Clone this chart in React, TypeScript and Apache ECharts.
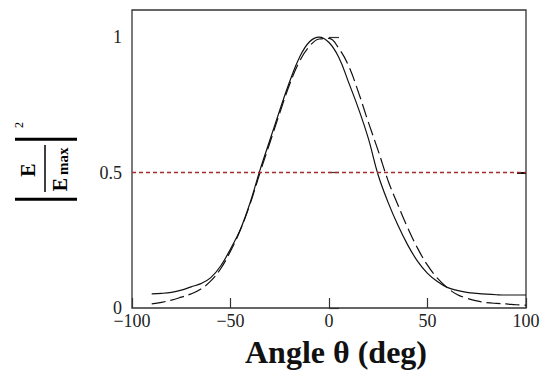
import React, { useEffect, useRef } from "react";
import * as echarts from "echarts";

const angles = [-90, -85, -80, -75, -70, -65, -60, -55, -50, -45, -40, -35, -30, -25, -20, -15, -10, -5, 0, 5, 10, 15, 20, 25, 30, 35, 40, 45, 50, 55, 60, 65, 70, 75, 80, 85, 90, 95, 100];
const solidValues = [0.052, 0.054, 0.058, 0.066, 0.078, 0.09, 0.112, 0.155, 0.218, 0.29, 0.39, 0.51, 0.62, 0.73, 0.835, 0.925, 0.982, 1.0, 0.98, 0.925, 0.832, 0.735, 0.625, 0.49, 0.39, 0.305, 0.232, 0.172, 0.128, 0.098, 0.076, 0.065, 0.058, 0.054, 0.051, 0.049, 0.048, 0.048, 0.048];
const dashedValues = [0.015, 0.021, 0.029, 0.04, 0.052, 0.07, 0.1, 0.145, 0.21, 0.288, 0.385, 0.5, 0.61, 0.72, 0.825, 0.91, 0.965, 0.993, 0.995, 0.958, 0.893, 0.795, 0.685, 0.58, 0.47, 0.38, 0.295, 0.22, 0.158, 0.11, 0.075, 0.05, 0.036, 0.026, 0.02, 0.017, 0.015, 0.012, 0.01];
const halfPower = 0.5;
const xTicks = [-100, -50, 0, 50, 100];
const yTicks = [0, 0.5, 1];

const serif = "Liberation Serif, Times New Roman, serif";

export default function App() {
  const ref = useRef<HTMLDivElement>(null);
  useEffect(() => {
    document.body.style.margin = "0";
    const chart = echarts.init(ref.current!, null, { renderer: "svg" });
    const solid = angles.map((a, i) => [a, solidValues[i]]);
    const dashed = angles.map((a, i) => [a, dashedValues[i]]);
    chart.setOption({
      animation: false,
      backgroundColor: "#ffffff",
      grid: {
        left: 132, right: 24, top: 10, bottom: 72,
        outerBoundsMode: "none",
        containLabel: false,
        show: true, borderColor: "#333", borderWidth: 1.3, backgroundColor: "transparent",
      },
      xAxis: {
        type: "value",
        min: -100,
        max: 100,
        interval: 50,
        axisLine: { show: false },
        splitLine: { show: false },
        axisTick: { inside: true, length: 10, lineStyle: { color: "#333", width: 1.2 } },
        axisLabel: {
          fontFamily: serif,
          fontSize: 18,
          lineHeight: 14,
          color: "#222",
          margin: 6,
          customValues: xTicks,
          formatter: (v: number) => String(v).replace("-", "\u2212"),
        },
        name: "Angle \u03b8 (deg)",
        nameLocation: "middle",
        nameGap: 28,
        nameTextStyle: { fontFamily: serif, fontSize: 32, fontWeight: "bold", color: "#111", padding: [0, 0, 0, 14] },
      },
      yAxis: [
        {
          type: "value",
          min: 0,
          max: 1.1,
          interval: 0.5,
          axisLine: { show: false },
          splitLine: { show: false },
          axisTick: { inside: true, length: 10, customValues: yTicks, lineStyle: { color: "#333", width: 1.2 } },
          axisLabel: {
            fontFamily: serif,
            fontSize: 18,
            lineHeight: 12,
            color: "#222",
            margin: 10,
            customValues: yTicks,
            formatter: (v: number) => String(v),
          },
        },
        {
          type: "value",
          position: "right",
          min: 0,
          max: 1.1,
          interval: 0.5,
          axisLine: { show: false },
          splitLine: { show: false },
          axisTick: { show: true, inside: true, length: 9, customValues: [halfPower], lineStyle: { color: "#111", width: 2 } },
          axisLabel: { show: false },
        },
      ],
      series: [
        {
          type: "line",
          data: solid,
          smooth: 0.4,
          showSymbol: false,
          lineStyle: { color: "#111", width: 1.2 },
          markLine: {
            silent: true,
            symbol: "none",
            label: { show: false },
            lineStyle: { color: "#a52a2a", width: 1.3, type: [4, 3] },
            data: [{ yAxis: halfPower }],
          },
        },
        {
          type: "line",
          data: dashed,
          smooth: 0.4,
          showSymbol: false,
          lineStyle: { color: "#111", width: 1.2, type: [14, 5] },
        },
      ],
      graphic: [
        {
          type: "group",
          x: 46,
          y: 169,
          rotation: Math.PI / 2,
          children: [
            { type: "line", shape: { x1: -30.3, y1: -31, x2: -30.3, y2: 31 }, style: { stroke: "#000", lineWidth: 3 } },
            { type: "line", shape: { x1: 29.7, y1: -31, x2: 29.7, y2: 31 }, style: { stroke: "#000", lineWidth: 3 } },
            { type: "line", shape: { x1: -23, y1: -1, x2: 24, y2: -1 }, style: { stroke: "#000", lineWidth: 1.5 } },
            { type: "text", x: -1, y: -17.7, style: { text: "E", fontFamily: serif, fontSize: 20, fontWeight: "bold", fill: "#000", align: "center", verticalAlign: "middle" } },
            { type: "text", x: -15.5, y: 14, style: { text: "E", fontFamily: serif, fontSize: 20, fontWeight: "bold", fill: "#000", align: "center", verticalAlign: "middle" } },
            { type: "text", x: -6, y: 17, style: { text: "max", fontFamily: serif, fontSize: 15, fontWeight: "bold", fill: "#000", align: "left", verticalAlign: "middle" } },
            { type: "text", x: 41, y: -27, style: { text: "2", fontFamily: serif, fontSize: 12, fill: "#000", align: "left", verticalAlign: "middle" } },
          ],
        },
      ],
    });
    return () => chart.dispose();
  }, []);
  return <div ref={ref} style={{ width: 550, height: 380 }} />;
}
